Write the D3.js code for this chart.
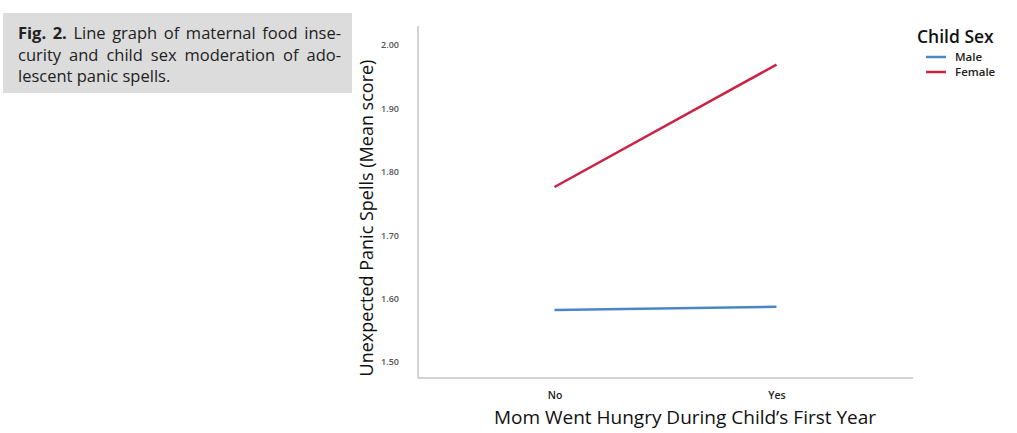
<!DOCTYPE html>
<html><head><meta charset="utf-8">
<script src="https://cdn.jsdelivr.net/npm/d3@7"></script>
<style>body{margin:0;background:#fff;}svg{display:block;}</style>
</head><body>
<svg id="c" width="1017" height="433"></svg>
<script>
const categories = ["No", "Yes"];
const seriesNames = ["Male", "Female"];
const maleValues = [1.582, 1.587];
const femaleValues = [1.776, 1.969];
const yTicks = [1.50, 1.60, 1.70, 1.80, 1.90, 2.00];
const colors = {Male: "#4a86c8", Female: "#cc2244"};

const svg = d3.select("#c");
const font = "'Open Sans', 'Noto Sans', sans-serif";

// caption box
svg.append("rect").attr("x", 3).attr("y", 13).attr("width", 349).attr("height", 80).attr("fill", "#dcdcdc");
const cap = svg.append("g").attr("font-family", font).attr("font-size", 16.5).attr("fill", "#222");
function justify(t, w) {
  const n = t.node();
  const natural = n.getComputedTextLength();
  const spaces = (n.textContent.match(/ /g) || []).length;
  if (spaces > 0) t.attr("word-spacing", (w - natural) / spaces);
}
const l1 = cap.append("text").attr("x", 18).attr("y", 39);
l1.append("tspan").attr("font-weight", "bold").text("Fig. 2.");
l1.append("tspan").text(" Line graph of maternal food inse-");
justify(l1, 323);
const l2 = cap.append("text").attr("x", 18).attr("y", 61).text("curity and child sex moderation of ado-");
justify(l2, 323);
cap.append("text").attr("x", 18).attr("y", 82).text("lescent panic spells.");

// scales
const y = d3.scaleLinear().domain([1.5, 2.0]).range([362, 45]);
const x = d3.scalePoint().domain(categories).range([418, 913]).padding(0.615);

const yTop = y.invert(26), yBot = y.invert(378);

// axes frame
svg.append("line").attr("x1", 418).attr("x2", 418).attr("y1", y(yTop)).attr("y2", y(yBot))
  .attr("stroke", "#c4c4c4").attr("stroke-width", 1.5);
svg.append("line").attr("x1", 418).attr("x2", 913).attr("y1", y(yBot)).attr("y2", y(yBot))
  .attr("stroke", "#c4c4c4").attr("stroke-width", 1.5);

// y tick labels
const yAxis = d3.axisLeft(y).tickValues(yTicks).tickFormat(d3.format(".2f")).tickSize(0).tickPadding(0);
const ya = svg.append("g").attr("transform", "translate(402,0)").call(yAxis);
ya.select(".domain").remove();
ya.selectAll("text").attr("font-family", font).attr("font-size", 9).attr("font-weight", 600).attr("fill", "#555").attr("text-anchor", "middle").attr("dx", -12);

// x tick labels
const xAxis = d3.axisBottom(x).tickSize(0).tickPadding(0);
const xa = svg.append("g").attr("transform", "translate(0,395)").call(xAxis);
xa.select(".domain").remove();
xa.selectAll("text").attr("font-family", font).attr("font-size", 10.5).attr("font-weight", 600).attr("fill", "#222").attr("dy", "0.35em");

// titles
svg.append("text").attr("x", 685).attr("y", 424).attr("text-anchor", "middle")
  .attr("font-family", font).attr("font-size", 19).attr("fill", "#111")
  .text("Mom Went Hungry During Child\u2019s First Year");
svg.append("text").attr("transform", "translate(373,218) rotate(-90)").attr("text-anchor", "middle")
  .attr("font-family", font).attr("font-size", 18).attr("fill", "#111")
  .text("Unexpected Panic Spells (Mean score)");

// lines
const series = [{name: "Male", values: maleValues}, {name: "Female", values: femaleValues}];
const line = d3.line().x((d, i) => x(categories[i])).y(d => y(d));
svg.selectAll("path.series").data(series).join("path").attr("class", "series")
  .attr("d", d => line(d.values)).attr("fill", "none")
  .attr("stroke", d => colors[d.name]).attr("stroke-width", 2.5);

// legend
const lg = svg.append("g").attr("font-family", font);
lg.append("text").attr("x", 917).attr("y", 43).attr("font-size", 17.5).attr("font-weight", 600).attr("fill", "#111").text("Child Sex");
seriesNames.forEach((n, i) => {
  const yy = 57 + i * 15;
  lg.append("line").attr("x1", 926).attr("x2", 946).attr("y1", yy).attr("y2", yy).attr("stroke", colors[n]).attr("stroke-width", 2.5);
  lg.append("text").attr("x", 955).attr("y", yy + 4).attr("font-size", 11.5).attr("font-weight", 600).attr("fill", "#222").text(n);
});
</script>
</body></html>
